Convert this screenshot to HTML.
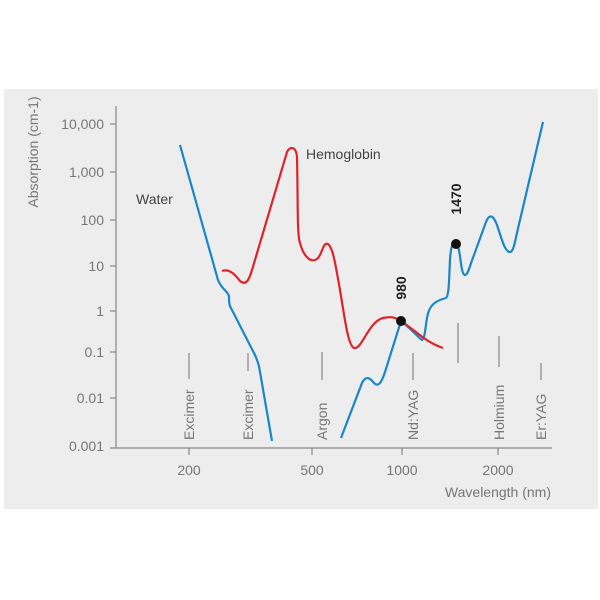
<!DOCTYPE html>
<html><head><style>
body{margin:0;background:#fff;}
svg{display:block;font-family:"Liberation Sans",sans-serif;}
</style></head><body>
<svg width="600" height="600" viewBox="0 0 600 600">
<rect x="4" y="89" width="594" height="420" fill="#ededee"/>
<g stroke="#888" stroke-width="1.2" fill="none">
<line x1="116" y1="106" x2="116" y2="448"/>
<line x1="110" y1="448" x2="552" y2="448"/>
<line x1="110" y1="124" x2="116" y2="124"/>
<line x1="110" y1="172" x2="116" y2="172"/>
<line x1="110" y1="220" x2="116" y2="220"/>
<line x1="110" y1="266" x2="116" y2="266"/>
<line x1="110" y1="311" x2="116" y2="311"/>
<line x1="110" y1="352" x2="116" y2="352"/>
<line x1="110" y1="398" x2="116" y2="398"/>
<line x1="189" y1="448" x2="189" y2="455"/>
<line x1="312" y1="448" x2="312" y2="455"/>
<line x1="402" y1="448" x2="402" y2="455"/>
<line x1="498" y1="448" x2="498" y2="455"/>
</g>
<g fill="#777" font-size="14" text-anchor="end">
<text x="104" y="129">10,000</text>
<text x="104" y="177">1,000</text>
<text x="104" y="225">100</text>
<text x="104" y="271">10</text>
<text x="104" y="316">1</text>
<text x="104" y="357">0.1</text>
<text x="104" y="403">0.01</text>
<text x="104" y="451">0.001</text>
</g>
<g fill="#777" font-size="14" text-anchor="middle">
<text x="189" y="475">200</text>
<text x="312" y="475">500</text>
<text x="402" y="475">1000</text>
<text x="498" y="475">2000</text>
</g>
<text x="551" y="497" fill="#777" font-size="14" text-anchor="end">Wavelength (nm)</text>
<text transform="translate(38,152) rotate(-90)" fill="#777" font-size="14" text-anchor="middle">Absorption (cm-1)</text>
<text x="136" y="204" fill="#444" font-size="14">Water</text>
<text x="306" y="159" fill="#444" font-size="14">Hemoglobin</text>
<g stroke="#888" stroke-width="1.2">
<line x1="189" y1="353" x2="189" y2="379"/>
<line x1="248" y1="353" x2="248" y2="371"/>
<line x1="322" y1="352" x2="322" y2="380"/>
<line x1="413" y1="353" x2="413" y2="380"/>
<line x1="458" y1="323" x2="458" y2="363"/>
<line x1="499" y1="336" x2="499" y2="367"/>
<line x1="541" y1="363" x2="541" y2="380"/>
</g>
<g fill="#777" font-size="14">
<text transform="translate(194,440) rotate(-90)">Excimer</text>
<text transform="translate(253,440) rotate(-90)">Excimer</text>
<text transform="translate(327,440) rotate(-90)">Argon</text>
<text transform="translate(418,440) rotate(-90)">Nd:YAG</text>
<text transform="translate(504,440) rotate(-90)">Holmium</text>
<text transform="translate(546,440) rotate(-90)">Er:YAG</text>
</g>
<path d="M180,145 L218,280 C222,290 227,290 229,296 C229,303 229,305 232,310 L255,355 C258,362 259,365 260,372 L272,441" fill="none" stroke="#1a86c8" stroke-width="2.2"/>
<path d="M341,438 L362,383 C366,375 370,378 374,383 C378,387 381,384 385,372 L401,321 C410,328 416,335 422,340 C425,338 425,330 427,318 C429,305 435,301 446,298 C449,296 449,280 450,260 C451,244 453,243 456,244 C461,245 460,275 465,275 C468,275 470,265 474,255 L486,222 C490,212 494,217 497,225 C502,240 505,252 510,252 C514,252 515,240 520,220 L543,122" fill="none" stroke="#1a86c8" stroke-width="2.2"/>
<path d="M222,271 C230,268 236,276 240,281 C246,286 249,280 252,270 L287,152 C290,146 296,146 297,157 C298,200 297,235 300,243 C304,258 312,264 318,258 C323,252 323,242 328,244 C333,248 335,262 340,290 C345,320 348,345 354,348 C362,350 368,322 383,318 C393,316 396,318 401,321 C415,330 425,342 443,348" fill="none" stroke="#e0232a" stroke-width="2.2"/>
<circle cx="401" cy="321" r="5" fill="#111"/>
<circle cx="456" cy="244" r="5" fill="#111"/>
<g fill="#222" font-size="14" font-weight="bold" text-anchor="middle">
<text transform="translate(406,288) rotate(-90)">980</text>
<text transform="translate(461,199) rotate(-90)">1470</text>
</g>
</svg>
</body></html>
